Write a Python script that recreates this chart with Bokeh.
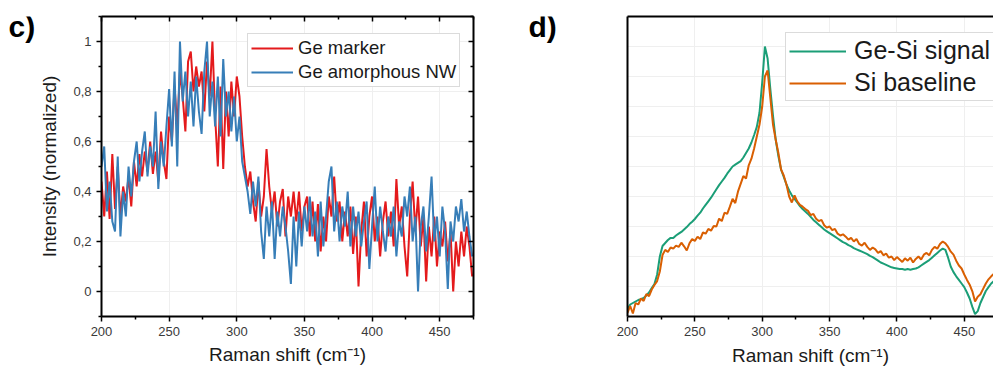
from bokeh.plotting import figure
from bokeh.models import Range1d, FixedTicker, LinearAxis, Legend, LegendItem
from bokeh.layouts import row
from bokeh.core.properties import value
from bokeh.embed import file_html
from bokeh.resources import INLINE

FONT = "Liberation Sans"

# ---------------- data: panel c ----------------
shift_c = list(range(200, 476, 2))
ge_marker = [
    0.44, 0.30, 0.48, 0.29, 0.55, 0.33, 0.50, 0.30, 0.42, 0.36,
    0.46, 0.34, 0.52, 0.42, 0.55, 0.46, 0.56, 0.48, 0.60, 0.47,
    0.56, 0.44, 0.64, 0.52, 0.45, 0.70, 0.60, 0.82, 0.66, 0.88,
    0.78, 0.64, 0.92, 0.96, 0.80, 0.90, 0.82, 0.88, 0.72, 0.92,
    0.78, 1.00, 0.70, 0.50, 0.82, 0.49, 0.80, 0.62, 0.84, 0.70,
    0.86, 0.78, 0.62, 0.50, 0.42, 0.48, 0.36, 0.28, 0.44, 0.30,
    0.38, 0.57, 0.42, 0.32, 0.40, 0.26, 0.36, 0.41, 0.22, 0.38,
    0.30, 0.40, 0.28, 0.40, 0.24, 0.34, 0.38, 0.22, 0.36, 0.20,
    0.35, 0.16, 0.30, 0.20, 0.38, 0.30, 0.46, 0.28, 0.36, 0.20,
    0.32, 0.22, 0.34, 0.15, 0.30, 0.02, 0.24, 0.36, 0.14, 0.30,
    0.38, 0.20, 0.30, 0.14, 0.28, 0.36, 0.22, 0.32, 0.18, 0.45,
    0.26, 0.34, 0.18, 0.06, 0.30, 0.44, 0.24, 0.38, 0.18, 0.30,
    0.04, 0.26, 0.14, 0.30, 0.10, 0.24, 0.18, 0.28, 0.12, 0.24,
    0.00, 0.20, 0.10, 0.24, 0.14, 0.26, 0.18, 0.06,
]
ge_amorphous = [
    0.50, 0.58, 0.32, 0.44, 0.28, 0.24, 0.54, 0.22, 0.40, 0.30,
    0.50, 0.38, 0.52, 0.60, 0.44, 0.56, 0.64, 0.46, 0.58, 0.50,
    0.72, 0.41, 0.60, 0.50, 0.66, 0.81, 0.58, 0.88, 0.50, 1.00,
    0.76, 0.88, 0.70, 0.84, 0.66, 0.86, 0.72, 0.63, 0.88, 1.00,
    0.70, 0.84, 0.66, 0.86, 0.62, 0.93, 0.70, 0.80, 0.64, 0.78,
    0.60, 0.70, 0.52, 0.46, 0.40, 0.31, 0.44, 0.34, 0.46, 0.24,
    0.13, 0.34, 0.22, 0.36, 0.13, 0.32, 0.22, 0.34, 0.26, 0.16,
    0.03, 0.30, 0.10, 0.32, 0.18, 0.34, 0.24, 0.38, 0.22, 0.32,
    0.14, 0.36, 0.18, 0.30, 0.44, 0.50, 0.24, 0.36, 0.20, 0.34,
    0.26, 0.40, 0.18, 0.34, 0.22, 0.32, 0.18, 0.28, 0.36, 0.09,
    0.26, 0.42, 0.20, 0.34, 0.24, 0.16, 0.30, 0.22, 0.34, 0.14,
    0.28, 0.22, 0.38, 0.30, 0.42, 0.20, 0.30, 0.00, 0.26, 0.34,
    0.16, 0.30, 0.46, 0.20, 0.30, 0.14, 0.34, 0.24, 0.01, 0.28,
    0.20, 0.34, 0.28, 0.37, 0.24, 0.32, 0.22, 0.14,
]

# ---------------- data: panel d ----------------
shift_d = list(range(200, 474, 2))
ge_si_signal = [
    0.025, 0.040, 0.045, 0.050, 0.055, 0.058, 0.062, 0.070, 0.080, 0.095,
    0.108, 0.140, 0.200, 0.235, 0.245, 0.255, 0.262, 0.262, 0.270, 0.276,
    0.282, 0.290, 0.298, 0.308, 0.316, 0.325, 0.336, 0.346, 0.360, 0.372,
    0.384, 0.396, 0.410, 0.424, 0.438, 0.450, 0.462, 0.476, 0.488, 0.500,
    0.506, 0.512, 0.518, 0.530, 0.545, 0.560, 0.580, 0.605, 0.632, 0.680,
    0.780, 0.900, 0.860, 0.760, 0.670, 0.590, 0.535, 0.490, 0.465, 0.440,
    0.420, 0.404, 0.392, 0.380, 0.368, 0.358, 0.350, 0.342, 0.332, 0.322,
    0.314, 0.306, 0.298, 0.290, 0.284, 0.278, 0.272, 0.266, 0.260, 0.254,
    0.248, 0.244, 0.238, 0.234, 0.228, 0.224, 0.220, 0.216, 0.212, 0.208,
    0.202, 0.198, 0.192, 0.186, 0.180, 0.176, 0.172, 0.168, 0.164, 0.162,
    0.160, 0.158, 0.158, 0.156, 0.158, 0.156, 0.158, 0.160, 0.164, 0.170,
    0.176, 0.182, 0.188, 0.196, 0.204, 0.212, 0.220, 0.226, 0.222, 0.196,
    0.166, 0.148, 0.134, 0.122, 0.110, 0.098, 0.080, 0.060, 0.032, 0.008,
    0.018, 0.045, 0.065, 0.085, 0.098, 0.110, 0.118,
]
si_baseline = [
    0.012, 0.035, 0.010, 0.045, 0.040, 0.060, 0.052, 0.075, 0.068, 0.090,
    0.105, 0.118, 0.150, 0.205, 0.222, 0.215, 0.230, 0.226, 0.236, 0.232,
    0.246, 0.234, 0.220, 0.244, 0.258, 0.252, 0.266, 0.258, 0.280, 0.276,
    0.292, 0.286, 0.302, 0.300, 0.326, 0.318, 0.346, 0.342, 0.366, 0.392,
    0.378, 0.416, 0.442, 0.468, 0.460, 0.504, 0.526, 0.560, 0.600, 0.640,
    0.700, 0.800, 0.820, 0.730, 0.640, 0.590, 0.545, 0.490, 0.470, 0.440,
    0.400, 0.380, 0.404, 0.384, 0.372, 0.366, 0.358, 0.352, 0.338, 0.342,
    0.326, 0.318, 0.322, 0.304, 0.296, 0.300, 0.288, 0.292, 0.276, 0.270,
    0.274, 0.266, 0.256, 0.262, 0.250, 0.258, 0.242, 0.236, 0.246, 0.232,
    0.222, 0.230, 0.224, 0.212, 0.218, 0.204, 0.210, 0.196, 0.200, 0.188,
    0.198, 0.190, 0.182, 0.194, 0.186, 0.196, 0.180, 0.192, 0.200, 0.190,
    0.206, 0.212, 0.204, 0.222, 0.232, 0.226, 0.242, 0.250, 0.244, 0.232,
    0.216, 0.206, 0.186, 0.170, 0.160, 0.140, 0.122, 0.106, 0.084, 0.050,
    0.066, 0.074, 0.092, 0.110, 0.124, 0.134, 0.142,
]

x_major = [200, 250, 300, 350, 400, 450]
x_minor = [225, 275, 325, 375, 425, 475]
y_major_c = [0, 0.2, 0.4, 0.6, 0.8, 1.0]
y_minor_c = [-0.1, 0.1, 0.3, 0.5, 0.7, 0.9, 1.1]
y_labels_c = {0: "0", 0.2: "0,2", 0.4: "0,4", 0.6: "0,6", 0.8: "0,8", 1.0: "1"}
y_grid_d = [0.1, 0.2, 0.3, 0.4, 0.5, 0.6, 0.7, 0.8, 0.9]

TICK_COLOR = "#3a3a3a"
GRID = "#efefef"
W, H = 993, 374


def style_main_axis(ax, label):
    ax.axis_line_width = 2
    ax.axis_line_color = "black"
    ax.major_tick_line_width = 1.5
    ax.minor_tick_line_width = 1.5
    ax.major_tick_out = 5
    ax.major_tick_in = 0
    ax.minor_tick_out = 3
    ax.minor_tick_in = 0
    ax.major_label_text_font = FONT
    ax.major_label_text_font_size = "13px"
    ax.major_label_text_color = TICK_COLOR
    ax.major_label_standoff = 5
    ax.axis_label = label
    ax.axis_label_text_font = FONT
    ax.axis_label_text_font_size = "19px"
    ax.axis_label_text_font_style = "normal"
    ax.axis_label_text_color = "#1a1a1a"


def mirror_axis(ticks, minor):
    ax = LinearAxis(ticker=FixedTicker(ticks=ticks, minor_ticks=minor))
    ax.axis_line_width = 2
    ax.axis_line_color = "black"
    ax.major_tick_line_width = 1.5
    ax.minor_tick_line_width = 1.5
    ax.major_tick_out = 0
    ax.major_tick_in = 5
    ax.minor_tick_out = 0
    ax.minor_tick_in = 3
    ax.major_label_overrides = {t: "" for t in ticks}
    ax.major_label_standoff = 0
    return ax


def panel_label(width, x, y, txt):
    lf = figure(width=width, height=H, output_backend="svg", toolbar_location=None,
                x_range=Range1d(0, width), y_range=Range1d(H, 0),
                x_axis_location=None, y_axis_location=None,
                min_border=0)
    lf.outline_line_color = None
    lf.grid.visible = False
    lf.text(x=[x], y=[y], text=[txt], text_font=value(FONT), text_font_size=value("30px"),
            text_font_style="bold", text_color="black", text_baseline="alphabetic",
            text_align="left")
    return lf


# ---------------- panel c ----------------
lab_c = panel_label(36, 8, 13, "c)")

pc = figure(width=464, height=H, output_backend="svg", toolbar_location=None,
            x_range=Range1d(200, 475), y_range=Range1d(-0.1, 1.1),
            min_border_left=63, min_border_right=27, min_border_top=16,
            min_border_bottom=57)
pc.outline_line_color = None

rc1 = pc.line(shift_c, ge_marker, line_color="#e41a1c", line_width=2)
rc2 = pc.line(shift_c, ge_amorphous, line_color="#377eb8", line_width=2)

pc.xaxis.ticker = FixedTicker(ticks=x_major, minor_ticks=x_minor)
pc.yaxis.ticker = FixedTicker(ticks=y_major_c, minor_ticks=y_minor_c)
pc.yaxis.major_label_overrides = y_labels_c
style_main_axis(pc.xaxis[0], "Raman shift (cm\u207b\u00b9)")
style_main_axis(pc.yaxis[0], "Intensity (normalized)")
pc.xaxis.axis_label_standoff = 5
pc.yaxis.axis_label_standoff = 10

pc.add_layout(mirror_axis(x_major, x_minor), "above")
pc.add_layout(mirror_axis(y_major_c, y_minor_c), "right")

pc.xgrid.grid_line_color = GRID
pc.ygrid.grid_line_color = GRID

leg_c = Legend(items=[LegendItem(label="Ge marker", renderers=[rc1]),
                      LegendItem(label="Ge amorphous NW", renderers=[rc2])],
               location=(146, 229))
leg_c.label_text_font = FONT
leg_c.label_text_font_size = "18.5px"
leg_c.label_text_color = "#1a1a1a"
leg_c.glyph_width = 42
leg_c.glyph_height = 20
leg_c.label_height = 20
leg_c.spacing = 2
leg_c.padding = 3
leg_c.label_standoff = 5
leg_c.margin = 0
leg_c.border_line_color = "#b8b8b8"
leg_c.border_line_width = 1.5
leg_c.background_fill_alpha = 1
pc.add_layout(leg_c)

# ---------------- panel d ----------------
lab_d = panel_label(65, 28, 12, "d)")

pd_ = figure(width=428, height=H, output_backend="svg", toolbar_location=None,
             x_range=Range1d(200, 471.7), y_range=Range1d(0, 1),
             min_border_left=62, min_border_right=0, min_border_top=15,
             min_border_bottom=58)
pd_.outline_line_color = None

rd1 = pd_.line(shift_d, ge_si_signal, line_color="#1b9e77", line_width=2)
rd2 = pd_.line(shift_d, si_baseline, line_color="#d95f02", line_width=2)

pd_.xaxis.ticker = FixedTicker(ticks=x_major, minor_ticks=x_minor)
style_main_axis(pd_.xaxis[0], "Raman shift (cm\u207b\u00b9)")
pd_.xaxis.major_label_standoff = 5
pd_.xaxis.axis_label_standoff = 6

ya = pd_.yaxis[0]
ya.ticker = FixedTicker(ticks=[])
ya.axis_line_width = 2
ya.axis_line_color = "black"
ya.major_tick_line_color = None
ya.minor_tick_line_color = None
ya.major_label_standoff = 0

top_d = LinearAxis(ticker=FixedTicker(ticks=[]))
top_d.axis_line_width = 2
top_d.axis_line_color = "black"
top_d.major_tick_line_color = None
top_d.minor_tick_line_color = None
top_d.major_label_standoff = 0
pd_.add_layout(top_d, "above")

pd_.xgrid.grid_line_color = GRID
pd_.ygrid.grid_line_color = GRID
pd_.ygrid.ticker = FixedTicker(ticks=y_grid_d)

leg_d = Legend(items=[LegendItem(label="Ge-Si signal", renderers=[rd1]),
                      LegendItem(label="Si baseline", renderers=[rd2])],
               location=(158, 215))
leg_d.label_text_font = FONT
leg_d.label_text_font_size = "25px"
leg_d.label_text_color = "#1a1a1a"
leg_d.glyph_width = 57
leg_d.glyph_height = 28
leg_d.label_height = 28
leg_d.spacing = 3
leg_d.padding = 3
leg_d.label_standoff = 8
leg_d.margin = 0
leg_d.border_line_color = "#b8b8b8"
leg_d.border_line_width = 1.5
leg_d.background_fill_alpha = 1
pd_.add_layout(leg_d)

layout = row(lab_c, pc, lab_d, pd_)
open("out.html", "w").write(file_html(layout, INLINE))
